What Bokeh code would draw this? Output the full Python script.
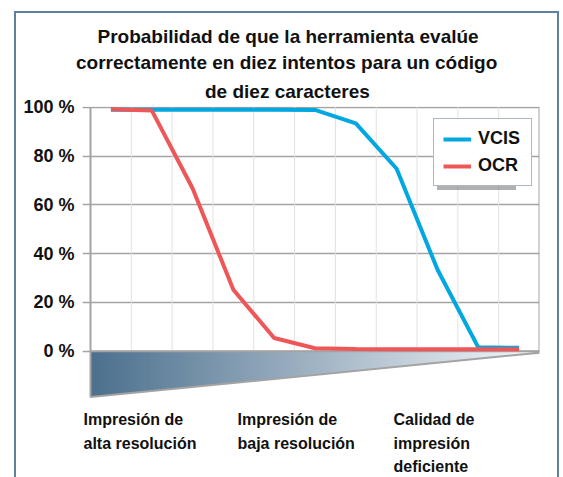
import numpy as np
from bokeh.plotting import figure
from bokeh.models import (Range1d, FixedTicker, Legend, LegendItem, Label, Title)
from bokeh.embed import file_html
from bokeh.resources import INLINE

# ---------------- data ----------------
title_lines = ["Probabilidad de que la herramienta evalúe",
               "correctamente en diez intentos para un código",
               "de diez caracteres"]
steps = list(range(1, 12))
vcis = [99.0, 99.0, 99.0, 99.0, 99.0, 98.9, 93.4, 74.8, 33.5, 1.6, 1.4]
ocr = [99.2, 98.7, 66.8, 25.2, 5.4, 1.2, 0.9, 0.8, 0.8, 0.8, 0.8]
series_names = ["VCIS", "OCR"]
y_ticks = [0, 20, 40, 60, 80, 100]
x_labels = ["Impresión de\nalta resolución",
            "Impresión de\nbaja resolución",
            "Calidad de\nimpresión\ndeficiente"]

# ---------------- style ----------------
FONT = "Liberation Sans"
C_VCIS = "#00a7e1"
C_OCR = "#ef5657"
GRAY = "#a3a3a3"
FB = "#5f80a0"   # frame border colour

n = len(steps)
xs = [s - 0.5 for s in steps]
unit = 449 / n                 # px per category
lead = 8 / unit                # gridline stub left of the value axis

p = figure(width=563, height=477, output_backend="svg", toolbar_location=None,
           x_range=Range1d(-lead, n), y_range=Range1d(-51.75, 100.3),
           x_axis_location=None, title=None,
           min_border_left=82, min_border_right=24, min_border_bottom=0,
           min_border_top=106)
p.styles = {"box-shadow": (f"inset 14px 0 0 0 white, inset 0 11px 0 0 white, "
                           f"inset -4px 0 0 0 white, "
                           f"inset 16px 0 0 0 {FB}, inset 0 13px 0 0 {FB}, "
                           f"inset -6px 0 0 0 {FB}")}
p.outline_line_color = None
p.border_fill_color = None
p.background_fill_color = "white"

# title: one Title per line, each centred on the same x (added from the frame outward)
title_offsets = [15, -6.5, 122.5]
for line, so, off in zip(reversed(title_lines), [10, 2, 3], reversed(title_offsets)):
    p.add_layout(Title(text=line, align="left", offset=off, text_font=FONT,
                       text_font_size="19px", text_font_style="bold",
                       text_color="#111111", standoff=so), "above")

# y axis (labels only; the axis line is drawn at x=0 below)
p.yaxis.ticker = FixedTicker(ticks=y_ticks)
p.yaxis.major_label_overrides = {t: f"{t} %" for t in y_ticks}
p.yaxis.axis_line_color = None
p.yaxis.major_tick_line_color = None
p.yaxis.major_tick_out = 0
p.yaxis.major_tick_in = 0
p.yaxis.minor_tick_line_color = None
p.yaxis.major_label_text_font = FONT
p.yaxis.major_label_text_font_size = "18px"
p.yaxis.major_label_text_font_style = "bold"
p.yaxis.major_label_text_color = "#111111"
p.yaxis.major_label_standoff = 8

p.ygrid.ticker = FixedTicker(ticks=y_ticks)
p.ygrid.grid_line_color = GRAY
p.ygrid.grid_line_width = 1.3
p.xgrid.visible = False

# vertical category grid lines, value-axis line and right frame edge
inner = list(range(1, n))
p.segment(x0=inner, y0=[0] * len(inner), x1=inner, y1=[100] * len(inner),
          line_color="#e2e2e2", line_width=1)
p.segment(x0=[0, n], y0=[0, 0], x1=[0, n], y1=[100, 100],
          line_color=GRAY, line_width=2)

# gradient wedge below the axis
depth_left, depth_right = -18.8, -0.6
edges = np.linspace(0, n, 121)
c0 = np.array([76, 112, 142])
c1 = np.array([246, 248, 250])
px, py, pc = [], [], []
for a, b in zip(edges[:-1], edges[1:]):
    bb = min(b + 0.05, n)
    ha = depth_left + (depth_right - depth_left) * a / n
    hb = depth_left + (depth_right - depth_left) * bb / n
    t = ((a + b) / 2) / n
    c = (c0 + (c1 - c0) * t).astype(int)
    px.append([a, bb, bb, a])
    py.append([0, 0, hb, ha])
    pc.append("#%02x%02x%02x" % tuple(c))
p.patches(px, py, fill_color=pc, line_color=None)
p.patch([0, n, n, 0], [0, 0, depth_right, depth_left], fill_color=None,
        line_color=GRAY, line_width=2)

# series
r1 = p.line(xs, vcis, line_color=C_VCIS, line_width=4)
r2 = p.line(xs, ocr, line_color=C_OCR, line_width=4)

# legend (with a simple drop shadow)
legend_kw = dict(glyph_width=28, glyph_height=20, label_height=20, label_width=44,
                 label_standoff=7, spacing=6, padding=9, margin=0,
                 label_text_font=FONT, label_text_font_size="18px",
                 label_text_font_style="bold", label_text_color="#111111")
shadow = Legend(items=[LegendItem(label=" ", renderers=[r1]),
                       LegendItem(label=" ", renderers=[r2])],
                location=(355, 287), background_fill_color="#707070",
                background_fill_alpha=0.55, border_line_color=None, **legend_kw)
legend = Legend(items=[LegendItem(label=series_names[0], renderers=[r1]),
                       LegendItem(label=series_names[1], renderers=[r2])],
                location=(351, 291), background_fill_color="white",
                background_fill_alpha=1.0, border_line_color="#5a7690",
                border_line_width=1.5, **legend_kw)
p.add_layout(shadow)
p.add_layout(legend)

# category labels under the wedge (left edges in px from the value axis)
label_left_px = [-7, 147, 303]
for lx, txt in zip(label_left_px, x_labels):
    p.add_layout(Label(x=lx / unit, y=-24.5, text=txt,
                       text_font=FONT, text_font_size="16px",
                       text_font_style="bold", text_color="#111111",
                       text_line_height=1.39, text_align="left",
                       text_baseline="top"))

open("out.html", "w").write(file_html(p, INLINE))
